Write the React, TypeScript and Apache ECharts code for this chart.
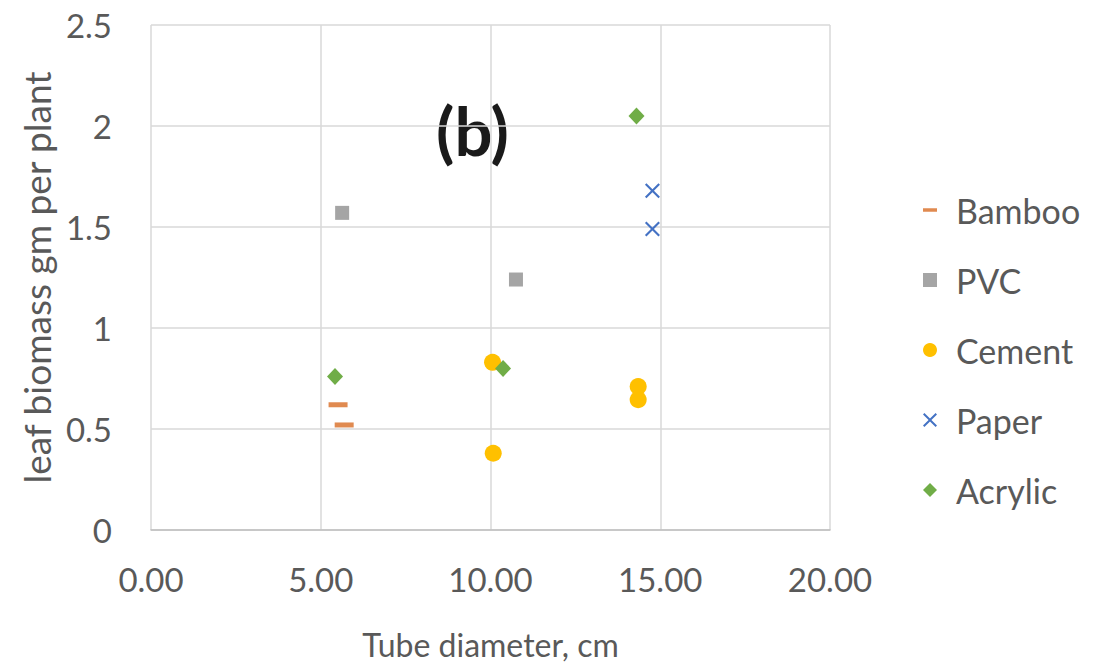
import React, { useEffect, useRef } from "react";
import * as echarts from "echarts";

const seriesNames = ["Bamboo", "PVC", "Cement", "Paper", "Acrylic"];
const bambooX = [5.51, 5.69];
const bambooY = [0.62, 0.52];
const pvcX = [5.63, 10.75];
const pvcY = [1.57, 1.24];
const cementX = [10.06, 10.08, 14.35, 14.35];
const cementY = [0.83, 0.38, 0.71, 0.645];
const paperX = [14.77, 14.77];
const paperY = [1.68, 1.49];
const acrylicX = [5.42, 10.37, 14.3];
const acrylicY = [0.76, 0.8, 2.05];

const colors = ["#E08A50", "#A5A5A5", "#FFC000", "#4472C4", "#70AD47"];
const crossPath =
  "path://M0,1L1,0L5,4L9,0L10,1L6,5L10,9L9,10L5,6L1,10L0,9L4,5Z";
const dashPath = "path://M0,0L4,0L4,1L0,1Z";

const zip = (xs: number[], ys: number[]) => xs.map((x, i) => [x, ys[i]]);

const FONT = "Lato, 'Open Sans', sans-serif";
const TXT = "#595959";

export default function App() {
  const ref = useRef<HTMLDivElement>(null);
  useEffect(() => {
    if (!ref.current) return;
    const chart = echarts.init(ref.current, null, { renderer: "svg" });
    const datasets = [
      zip(bambooX, bambooY),
      zip(pvcX, pvcY),
      zip(cementX, cementY),
      zip(paperX, paperY),
      zip(acrylicX, acrylicY),
    ];
    const symbols: any[] = ["rect", "rect", "circle", crossPath, "diamond"];
    const sizes: any[] = [[19, 5], 14, 17, 15, [16, 17]];
    chart.setOption({
      animation: false,
      backgroundColor: "#ffffff",
      textStyle: { fontFamily: FONT },
      grid: {
        left: 151,
        right: 282,
        top: 25,
        bottom: 138,
        outerBoundsMode: "none",
        containLabel: false,
      },
      xAxis: {
        type: "value",
        min: 0,
        max: 20,
        interval: 5,
        name: "Tube diameter, cm",
        nameLocation: "middle",
        nameGap: 98,
        nameTextStyle: { color: TXT, fontSize: 32, fontFamily: FONT },
        axisLine: { show: true, lineStyle: { color: "#BFBFBF", width: 1.5 } },
        axisTick: { show: false },
        axisLabel: {
          color: TXT,
          fontSize: 33,
          margin: 32,
          fontFamily: FONT,
          formatter: (v: number) => v.toFixed(2),
        },
        splitLine: { show: true, lineStyle: { color: "#D9D9D9", width: 1.5 } },
      },
      yAxis: {
        type: "value",
        min: 0,
        max: 2.5,
        interval: 0.5,
        name: "leaf biomass gm per plant",
        nameLocation: "middle",
        nameGap: 90,
        nameTextStyle: { color: TXT, fontSize: 37, fontFamily: FONT },
        axisLine: { show: false },
        axisTick: { show: false },
        axisLabel: { color: TXT, fontSize: 33, margin: 39, fontFamily: FONT },
        splitLine: { show: true, lineStyle: { color: "#D9D9D9", width: 1.5 } },
      },
      legend: {
        orient: "vertical",
        left: 918,
        top: 188,
        itemGap: 36,
        itemWidth: 14,
        itemHeight: 14,
        textStyle: { color: TXT, fontSize: 34, fontFamily: FONT, padding: [0, 0, 0, 14] },
        data: seriesNames.map((n, i) => ({
          name: n,
          icon: i === 0 ? dashPath : i === 2 ? "circle" : i === 1 ? "rect" : symbols[i],
        })),
      },
      graphic: [
        {
          type: "text",
          left: 436,
          top: 96,
          style: {
            text: "(b)",
            font: `bold 67px ${FONT}`,
            fill: "#1a1a1a",
          },
        },
      ],
      series: seriesNames.map((n, i) => ({
        name: n,
        type: "scatter",
        data: datasets[i],
        symbol: symbols[i],
        symbolSize: sizes[i],
        itemStyle: { color: colors[i], opacity: 1 },
      })),
    });
    return () => chart.dispose();
  }, []);
  return (
    <div
      ref={ref}
      style={{ position: "fixed", left: 0, top: 0, width: 1112, height: 668 }}
    />
  );
}
